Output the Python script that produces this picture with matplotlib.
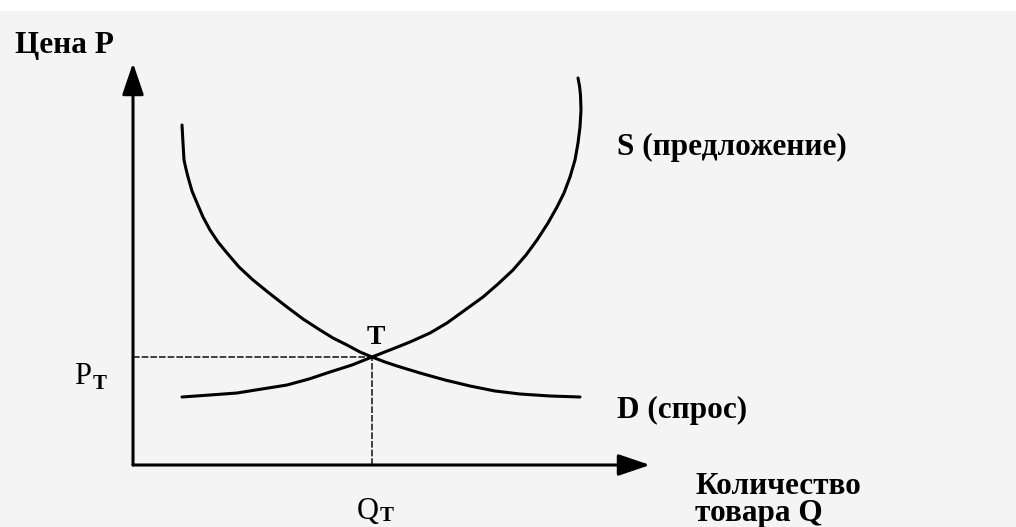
import matplotlib
matplotlib.use("Agg")
import matplotlib.pyplot as plt
from matplotlib.patches import Rectangle

plt.rcParams['font.family'] = ['Liberation Serif', 'DejaVu Serif']

demand_px = [182, 182.5, 183, 184, 186, 188, 192, 197, 203, 210, 218, 227, 239, 253, 269, 287,
             303, 320, 333, 347, 360, 372, 385, 397, 420, 445, 470, 495, 520, 550, 580]
demand_py = [125, 134, 143, 160, 169, 177, 191, 203, 217, 230, 242, 253, 267, 280, 293, 307,
             319, 330, 338, 345, 352, 357, 362, 366, 373, 380, 386, 391, 394, 396, 397]

# кривая предложения S
supply_px = [182, 210, 237, 262, 287, 309, 330, 352, 372, 395, 410, 430, 447, 465, 483, 498,
             513, 526, 537, 548, 557, 564, 570, 575, 578, 580, 581, 580.5, 579.5, 578]
supply_py = [397, 395, 393, 389, 385, 379, 372, 365, 357, 348, 342, 333, 323, 310, 297, 284,
             270, 255, 240, 223, 207, 193, 177, 160, 143, 127, 110, 95, 86, 78]

# переводим в единицы Q и P (начало координат в точке (133, 465))
demand_q = [(x - 133) / 10 for x in demand_px]
demand_p = [(465 - y) / 10 for y in demand_py]
supply_q = [(x - 133) / 10 for x in supply_px]
supply_p = [(465 - y) / 10 for y in supply_py]

# точка равновесия T
q_t = 23.9
p_t = 10.8

# длина осей
q_max = 51.7
p_max = 40.2

fig = plt.figure(figsize=(10.16, 5.27), dpi=100)
fig.patch.set_facecolor('#f4f4f4')
fig.patches.append(Rectangle((0, 1 - 11 / 527), 1, 11 / 527, transform=fig.transFigure,
                             facecolor='white', edgecolor='none', zorder=0))

ax = fig.add_axes([0, 0, 1, 1])
ax.set_facecolor('none')
ax.set_xlim(-13.3, 88.3)
ax.set_ylim(-6.2, 46.5)
ax.axis('off')

# оси со стрелками
arrow = dict(arrowstyle='-|>,head_length=0.97,head_width=0.33', lw=2.2, color='black',
             mutation_scale=20, shrinkA=0, shrinkB=0)
ax.annotate('', xy=(0, p_max), xytext=(0, 0), arrowprops=arrow)
ax.annotate('', xy=(q_max, 0), xytext=(0, 0), arrowprops=arrow)

# пунктир к точке T
ax.plot([0, q_t], [p_t, p_t], color='#222222', lw=1.2, linestyle=(0, (4, 1.2)))
ax.plot([q_t, q_t], [0, p_t], color='#222222', lw=1.2, linestyle=(0, (4, 1.2)))

# кривые
ax.plot(demand_q, demand_p, color='black', lw=2.2, solid_capstyle='round', solid_joinstyle='round')
ax.plot(supply_q, supply_p, color='black', lw=2.2, solid_capstyle='round', solid_joinstyle='round')

# подписи
fs = 22.5
ax.text(-11.8, 41.9, 'Цена P', fontsize=fs, fontweight='bold', va='center', ha='left')
ax.text(48.4, 31.8, 'S (предложение)', fontsize=fs, fontweight='bold', va='center', ha='left')
ax.text(48.4, 5.5, 'D (спрос)', fontsize=fs, fontweight='bold', va='center', ha='left')
ax.text(56.2, -2.1, 'Количество', fontsize=fs, fontweight='bold', va='center', ha='left')
ax.text(56.2, -4.85, 'товара Q', fontsize=fs, fontweight='bold', va='center', ha='left')
ax.text(24.3, 12.8, 'T', fontsize=20, fontweight='bold', va='center', ha='center')
ax.text(-5.9, 8.8, 'P', fontsize=22, va='center', ha='left')
ax.text(-4.0, 8.1, 'T', fontsize=15, fontweight='bold', va='center', ha='left')
ax.text(22.4, -4.6, 'Q', fontsize=22, va='center', ha='left')
ax.text(24.7, -5.1, 'T', fontsize=15, fontweight='bold', va='center', ha='left')

fig.savefig('out.png', dpi=100, facecolor=fig.get_facecolor())
